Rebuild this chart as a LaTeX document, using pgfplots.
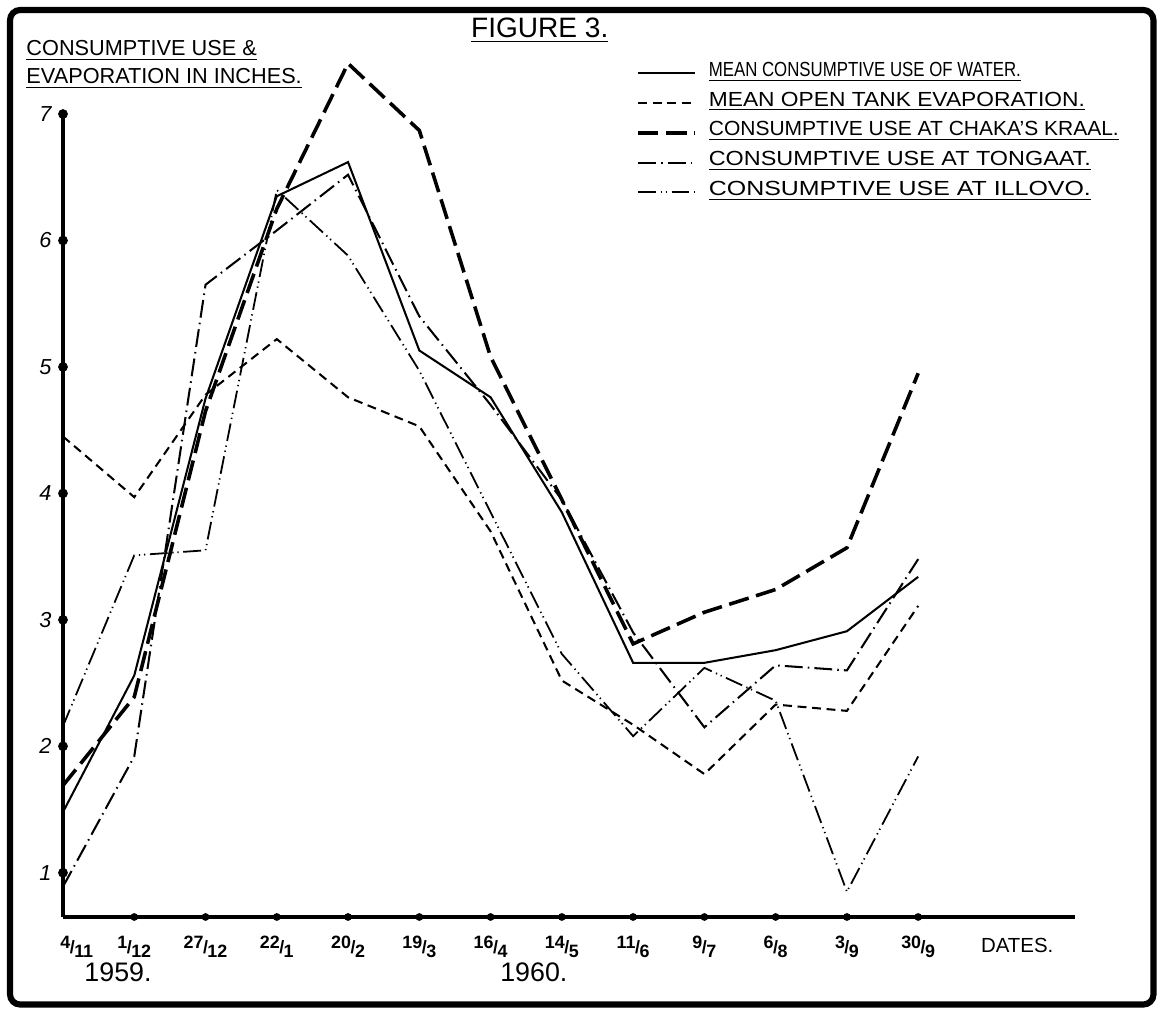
\documentclass[border=0pt]{standalone}
\usepackage{fontspec}
\setmainfont{Liberation Sans}
\usepackage{graphicx}
\usepackage{pgfplots}
\pgfplotsset{compat=1.18}
\newcommand{\fr}[2]{\raisebox{1.8pt}{#1}\kern-0.2pt/\kern-0.2pt\raisebox{-1.8pt}{#2}}
\newcommand{\leg}[2]{\resizebox{#1}{\height}{\underline{#2}}}
\begin{document}
\begin{tikzpicture}
\useasboundingbox (0,0) rectangle (16cm,13.962cm);
\begin{axis}[
  at={(0.8674cm,1.3356cm)}, anchor=south west,
  scale only axis, width=13.934cm, height=11.056cm,
  xmin=0, xmax=14.2, ymin=0.65, ymax=7,
  clip=false,
  axis x line=bottom, axis y line=left,
  x axis line style={-, line width=1.2pt},
  y axis line style={-, line width=1.7pt},
  xtick={0,...,12}, ytick={1,2,3,4,5,6,7},
  major tick length=0pt,
  xticklabels={\hspace*{0.38cm}\fr{4}{11},\fr{1}{12},\fr{27}{12},\fr{22}{1},\fr{20}{2},\fr{19}{3},\fr{16}{4},\fr{14}{5},\fr{11}{6},\fr{9}{7},\fr{6}{8},\fr{3}{9},\fr{30}{9}},
  yticklabels={1,2,3,4,5,6,7},
  xticklabel style={font=\fontsize{7}{8}\selectfont\bfseries, yshift=-4pt},
  yticklabel style={font=\fontsize{8.5}{9}\selectfont\itshape, xshift=-1pt},
  legend style={at={(0.566,1.0697)}, anchor=north west, draw=none, fill=none,
    inner sep=0pt, row sep=0pt, column sep=0.165cm,
    font=\fontsize{8}{10}\selectfont,
    cells={anchor=west},
    nodes={inner sep=0pt, text height=7pt, text depth=4.65pt}},
  legend image code/.code={\draw[#1] (0cm,0cm) -- (0.785cm,0cm);},
]
% mean consumptive use of water
\addplot[black, line width=0.8pt] coordinates {
(0,1.48) (1,2.56) (2,4.75) (3,6.35) (4,6.62) (5,5.13) (6,4.76) (7,3.85) (8,2.66) (9,2.66) (10,2.76) (11,2.91) (12,3.34)};
\addlegendentry{\leg{4.296cm}{MEAN CONSUMPTIVE USE OF WATER.}}
% mean open tank evaporation
\addplot[black, line width=0.8pt, dash pattern=on 3.5pt off 2.2pt] coordinates {
(0,4.45) (1,3.97) (2,4.78) (3,5.22) (4,4.76) (5,4.53) (6,3.70) (7,2.52) (8,2.17) (9,1.78) (10,2.33) (11,2.28) (12,3.11)};
\addlegendentry{\leg{5.177cm}{MEAN OPEN TANK EVAPORATION.}}
% Chaka's Kraal
\addplot[black, line width=1.4pt, dash pattern=on 8pt off 3pt] coordinates {
(0,1.69) (1,2.39) (2,4.65) (3,6.25) (4,7.40) (5,6.87) (6,5.08) (7,3.95) (8,2.81) (9,3.06) (10,3.24) (11,3.57) (12,4.95)};
\addlegendentry{\leg{5.645cm}{CONSUMPTIVE USE AT CHAKA'S KRAAL.}}
% Tongaat
\addplot[black, line width=0.8pt, dash pattern=on 7pt off 2pt on 0.6pt off 2pt] coordinates {
(0,0.89) (1,1.92) (2,5.65) (3,6.08) (4,6.52) (5,5.40) (6,4.70) (7,3.95) (8,2.90) (9,2.15) (10,2.64) (11,2.60) (12,3.48)};
\addlegendentry{\leg{5.26cm}{CONSUMPTIVE USE AT TONGAAT.}}
% Illovo
\addplot[black, line width=0.7pt, dash pattern=on 7pt off 1.8pt on 0.5pt off 1.5pt on 0.5pt off 1.8pt] coordinates {
(0,2.16) (1,3.51) (2,3.55) (3,6.40) (4,5.88) (5,4.97) (6,3.85) (7,2.73) (8,2.08) (9,2.62) (10,2.36) (11,0.85) (12,1.92)};
\addlegendentry{\leg{5.26cm}{CONSUMPTIVE USE AT ILLOVO.}}
% tick dots
\addplot[only marks, mark=*, mark size=1.7pt, black, forget plot] coordinates {
(0,1) (0,2) (0,3) (0,4) (0,5) (0,6) (0,7)};
\addplot[only marks, mark=*, mark size=1.3pt, black, forget plot] coordinates {
(1,0.65) (2,0.65) (3,0.65) (4,0.65) (5,0.65) (6,0.65) (7,0.65) (8,0.65) (9,0.65) (10,0.65) (11,0.65) (12,0.65)};
\end{axis}
\begin{scope}[x=0.013769cm, y=-0.013769cm, yshift=13.962cm]
\draw[line width=2.4pt, rounded corners=4pt] (10,10) rectangle (1154,1005);
\node[anchor=base, font=\fontsize{11}{13}\selectfont] at (540,38) {\underline{FIGURE 3.}};
\node[anchor=base west, inner sep=0pt, font=\fontsize{8.5}{10}\selectfont] at (26,56) {\underline{CONSUMPTIVE USE \&}};
\node[anchor=base west, inner sep=0pt, font=\fontsize{8.5}{10}\selectfont] at (26,84) {\underline{EVAPORATION IN INCHES.}};
\node[anchor=base west, inner sep=0pt, font=\fontsize{10.5}{12}\selectfont] at (84,982) {1959.};
\node[anchor=base west, inner sep=0pt, font=\fontsize{10.5}{12}\selectfont] at (500,982) {1960.};
\node[anchor=base west, inner sep=0pt, font=\fontsize{8}{10}\selectfont] at (981,953) {DATES.};
\end{scope}
\end{tikzpicture}
\end{document}
